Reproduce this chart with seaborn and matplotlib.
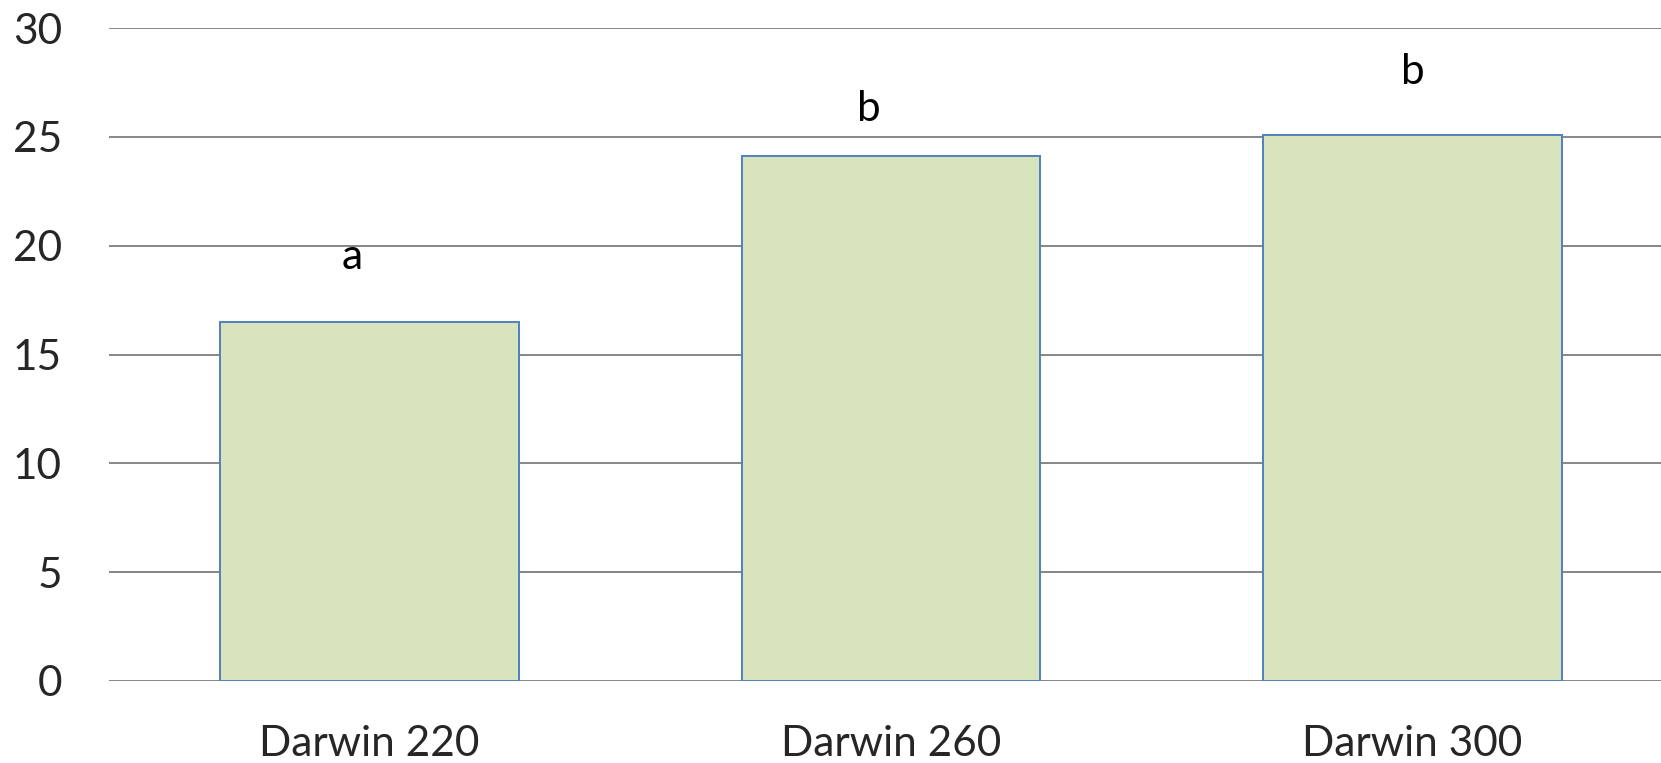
import pandas as pd
import seaborn as sns
import matplotlib.pyplot as plt

# Data
cultivars = ["Darwin 220", "Darwin 260", "Darwin 300"]
values = [16.5, 24.1, 25.1]
letters = ["a", "b", "b"]
letter_y = [19.5, 26.3, 28.0]

data = pd.DataFrame({"Cultivar": cultivars, "Value": values})

sns.set_style("white")
plt.rcParams["font.family"] = ["Lato", "DejaVu Sans"]

fig = plt.figure(figsize=(16.61, 7.63), dpi=100)
ax = fig.add_axes([109 / 1661, 82 / 763, (1673 - 109) / 1661, (681 - 28) / 763])

sns.barplot(x="Cultivar", y="Value", data=data, color="#d7e4bd",
            edgecolor="#4f81bd", linewidth=1.4, width=0.573, ax=ax,
            saturation=1, zorder=3)

# significance letters
offsets = [-0.033, -0.043, 0.0]
for i, (lab, y) in enumerate(zip(letters, letter_y)):
    ax.text(i + offsets[i], y, lab, ha="center", va="center", fontsize=30.5, color="black")

ax.set_xlim(-0.5, 2.5)
ax.set_ylim(0, 30)
ax.set_yticks(range(0, 31, 5))
ax.yaxis.grid(True, color="#868686", linewidth=1.4, zorder=0)
ax.set_axisbelow(True)
for s in ax.spines.values():
    s.set_visible(False)
ax.set_xlabel("")
ax.set_ylabel("")
ax.tick_params(axis="y", length=0, pad=34, labelsize=30.5)
ax.tick_params(axis="x", length=0, pad=32, labelsize=30.5)

fig.savefig("out.png", dpi=100)
